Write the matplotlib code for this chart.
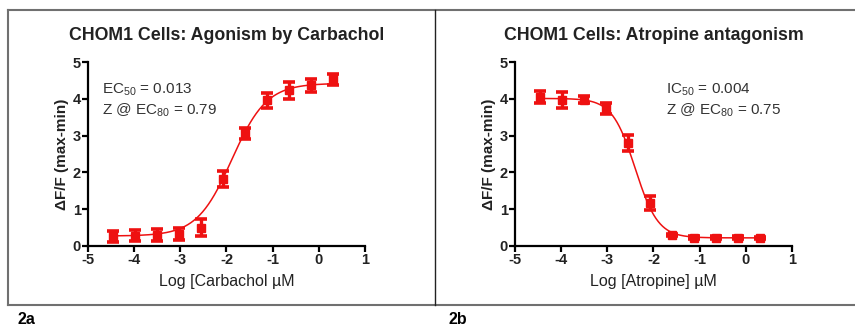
import numpy as np
import matplotlib
matplotlib.use('Agg')
import matplotlib.pyplot as plt
from matplotlib.lines import Line2D

plt.rcParams['font.family'] = ['Liberation Sans', 'DejaVu Sans']
plt.rcParams['axes.unicode_minus'] = False
plt.rcParams['mathtext.fontset'] = 'custom'
plt.rcParams['mathtext.rm'] = 'Liberation Sans'
plt.rcParams['mathtext.it'] = 'Liberation Sans:italic'
plt.rcParams['mathtext.bf'] = 'Liberation Sans:bold'

# log concentrations (3-fold dilution series)
log_conc = [-4.46, -3.99, -3.51, -3.03, -2.56, -2.08, -1.60, -1.13, -0.65, -0.18, 0.30]

# 2a: carbachol agonism
carb_y = [0.27, 0.28, 0.29, 0.32, 0.50, 1.82, 3.06, 3.96, 4.23, 4.37, 4.53]
carb_err = [0.15, 0.15, 0.16, 0.17, 0.23, 0.23, 0.14, 0.20, 0.24, 0.18, 0.15]
carb_fit = dict(bottom=0.27, top=4.42, logx50=-1.886, hill=1.15)

# 2b: atropine antagonism
atro_y = [4.05, 3.96, 3.98, 3.74, 2.79, 1.17, 0.30, 0.23, 0.23, 0.23, 0.22]
atro_err = [0.16, 0.22, 0.09, 0.14, 0.22, 0.20, 0.03, 0.03, 0.03, 0.03, 0.03]
atro_fit = dict(bottom=0.22, top=4.01, logx50=-2.398, hill=-1.75)

RED = '#ee1111'


def four_pl(x, bottom, top, logx50, hill):
    return bottom + (top - bottom) / (1 + 10 ** ((logx50 - x) * hill))


fig = plt.figure(figsize=(8.55, 3.26), dpi=100)

panels = [
    (0.1029, 'CHOM1 Cells: Agonism by Carbachol', 'Log [Carbachol \u00b5M',
     carb_y, carb_err, carb_fit, ['EC$_{50}$ = 0.013', 'Z @ EC$_{80}$ = 0.79'], 0.05),
    (0.6023, 'CHOM1 Cells: Atropine antagonism', 'Log [Atropine] \u00b5M',
     atro_y, atro_err, atro_fit, ['IC$_{50}$ = 0.004', 'Z @ EC$_{80}$ = 0.75'], 0.545),
]

for x0, title, xlabel, y, err, fit, notes, tx in panels:
    ax = fig.add_axes([x0, 0.2455, 0.324, 0.5643])
    xs = np.linspace(log_conc[0], log_conc[-1], 300)
    ax.plot(xs, four_pl(xs, **fit), color=RED, lw=1.1, zorder=2)
    ax.errorbar(log_conc, y, yerr=err, fmt='s', ms=5.5, color=RED, ecolor=RED,
                elinewidth=2.4, capsize=4, capthick=2.6, zorder=3)
    ax.set_xlim(-5, 1)
    ax.set_ylim(0, 5)
    ax.set_xticks(range(-5, 2))
    ax.set_yticks(range(0, 6))
    for s in ['top', 'right']:
        ax.spines[s].set_visible(False)
    for s in ['left', 'bottom']:
        ax.spines[s].set_linewidth(1.6)
    ax.tick_params(direction='out', length=4, width=1.6, labelsize=10.5, pad=1)
    for lab in ax.get_xticklabels() + ax.get_yticklabels():
        lab.set_fontweight('bold')
        lab.set_color('#222222')
    ax.set_xlabel(xlabel, fontsize=11.5, color='#222222', labelpad=5)
    ax.set_ylabel('\u0394F/F (max-min)', fontsize=11, fontweight='bold',
                  color='#222222', labelpad=3)
    ax.set_title(title, fontsize=12.8, fontweight='bold', color='#222222', pad=16)
    ax.text(tx, 0.85, notes[0], transform=ax.transAxes, fontsize=11,
            color='#333333', va='center')
    ax.text(tx, 0.735, notes[1], transform=ax.transAxes, fontsize=11,
            color='#333333', va='center')

# outer frame
frame_col = '#707070'
fig.add_artist(Line2D([8 / 855, 1], [1 - 10 / 326] * 2, color=frame_col, lw=1.5))
fig.add_artist(Line2D([8 / 855, 1], [1 - 305 / 326] * 2, color=frame_col, lw=1.5))
fig.add_artist(Line2D([8 / 855] * 2, [1 - 10 / 326, 1 - 305 / 326], color=frame_col, lw=1.5))
fig.add_artist(Line2D([435 / 855] * 2, [1 - 10 / 326, 1 - 305 / 326], color='#222222', lw=1.0))

fig.text(17 / 855, 1 - 319 / 326, '2a', fontsize=11.5, fontweight='bold', va='center')
fig.text(448 / 855, 1 - 319 / 326, '2b', fontsize=11.5, fontweight='bold', va='center')

fig.savefig('out.png', dpi=100)
